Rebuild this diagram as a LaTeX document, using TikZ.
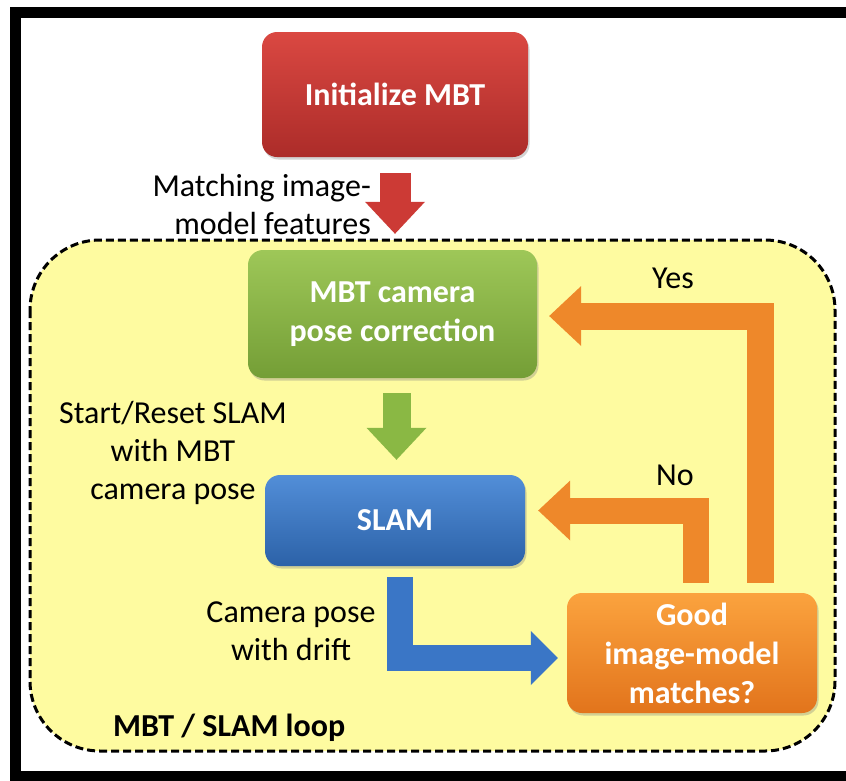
\documentclass[tikz,border=0pt]{standalone}
\usepackage{fontspec}
\setmainfont{Carlito}
\usepackage{tikz}
\usetikzlibrary{arrows.meta,shadows}

\definecolor{redtop}{RGB}{218,72,66}
\definecolor{redbot}{RGB}{172,44,41}
\definecolor{greentop}{RGB}{158,199,88}
\definecolor{greenbot}{RGB}{116,158,54}
\definecolor{bluetop}{RGB}{82,142,216}
\definecolor{bluebot}{RGB}{44,98,168}
\definecolor{orangetop}{RGB}{251,163,62}
\definecolor{orangebot}{RGB}{226,116,28}
\definecolor{redarr}{RGB}{204,58,53}
\definecolor{greenarr}{RGB}{138,184,68}
\definecolor{bluearr}{RGB}{58,118,198}
\definecolor{orangearr}{RGB}{238,136,42}
\definecolor{loopfill}{RGB}{254,251,160}

\begin{document}
\begin{tikzpicture}[x=1pt, y=-1pt, font=\fontsize{32}{38}\selectfont]
    \tikzstyle{box} = [rounded corners=15pt, inner sep=0pt, align=center, text=white,
        font=\fontsize{32}{39}\selectfont\bfseries,
        drop shadow={opacity=0.35, shadow xshift=1.5pt, shadow yshift=-2.5pt}]
    \tikzstyle{lbl} = [align=center, inner sep=0pt]
    \tikzstyle{fat} = [line width=28pt, -{Triangle[width=60pt, length=32pt, line width=0pt]}]
    \useasboundingbox (0,0) rectangle (846,780);

    % frame and loop region
    \draw[line width=11pt] (900,12.5) -- (15.5,12.5) -- (15.5,776) -- (900,776);
    \draw[fill=loopfill, line width=3pt, dash pattern=on 8pt off 4pt, rounded corners=70pt]
        (30,240) rectangle (835,751);

    % blocks
    \node[box, top color=redtop, bottom color=redbot, minimum width=266pt, minimum height=125pt]
        (init) at (395,94.5) {Initialize MBT};
    \node[box, top color=greentop, bottom color=greenbot, minimum width=289pt, minimum height=128pt]
        (mbt) at (392.5,314) {MBT camera\\pose correction};
    \node[box, top color=bluetop, bottom color=bluebot, minimum width=260pt, minimum height=91pt]
        (slam) at (395,520.5) {SLAM};
    \node[box, top color=orangetop, bottom color=orangebot, minimum width=250pt, minimum height=120pt]
        (good) at (692,653) {Good\\image-model\\matches?};

    % block arrows
    \draw[fat, draw=redarr, line width=31pt, shorten <=16pt, shorten >=16pt]
        (init.south) -- (init.south |- mbt.north);
    \draw[fat, draw=greenarr, shorten <=15pt, shorten >=15pt]
        ([xshift=4pt]mbt.south) -- ([xshift=4pt]mbt.south |- slam.north);
    \draw[fat, draw=bluearr, line width=26pt,
        -{Triangle[width=54pt, length=27pt, line width=0pt]}, shorten <=11pt, shorten >=9pt]
        ([xshift=5pt]slam.south) |- ([yshift=-5pt]good.west);
    \draw[fat, draw=orangearr, line width=26pt, shorten <=10pt, shorten >=13pt]
        ([xshift=4pt]good.north) |- ([yshift=10pt]slam.east);
    \draw[fat, draw=orangearr, line width=27pt, shorten <=10pt, shorten >=12pt]
        ([xshift=68pt]good.north) |- ([yshift=-2pt]mbt.east);

    % labels
    \node[lbl, align=right, anchor=east] (lblmatch) at (371,205) {Matching image-\\model features};
    \node[lbl] (lblreset) at (173,453) {Start/Reset SLAM\\with MBT\\camera pose};
    \node[lbl] (lbldrift) at (291,631) {Camera pose\\with drift};
    \node[lbl] (lblyes) at (673,278) {Yes};
    \node[lbl] (lblno) at (675,475) {No};
    \node[lbl, anchor=west, font=\fontsize{32}{38}\selectfont\bfseries] (lblloop) at (113,728) {MBT / SLAM loop};
\end{tikzpicture}
\end{document}
